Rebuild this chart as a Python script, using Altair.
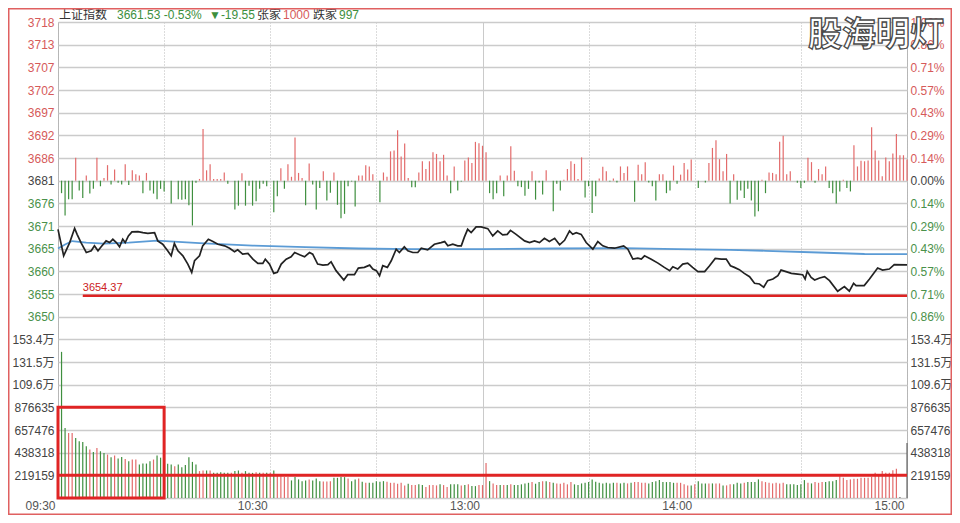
import json
import altair as alt
import pandas as pd

# ---------------- data ----------------
PREV_CLOSE = 3681.08          # 3661.53 + 19.55
VOL_STEP = 219159             # one grid step of the volume pane

# price line: (minute since 09:30, index level)
price_points = [
    (0, 3669.79), (1.6, 3663.65), (3.3, 3666.72), (4.7, 3670.02), (5.4, 3668.63), (6.5, 3666.72),
    (8, 3664.41), (9.4, 3664.81), (10.3, 3665.96), (11.3, 3664.81), (12.2, 3665.73), (13.6, 3667.11),
    (14.6, 3666.72), (15.5, 3667.48), (16.5, 3666.72), (17.4, 3665.73), (18.3, 3667.48), (19, 3666.72),
    (19.9, 3668.26), (20.9, 3669.19), (22.6, 3669.26), (24, 3669.02), (25.4, 3668.86), (27.3, 3669.02),
    (28.2, 3667.11), (29.6, 3666.33), (31, 3664.81), (32, 3663.65), (32.9, 3666.49), (33.9, 3664.81),
    (35.3, 3663.65), (36.7, 3661.72), (37.8, 3659.80), (38.6, 3662.50), (40, 3663.65), (40.9, 3665.96),
    (42.5, 3667.48), (43.8, 3666.95), (45.2, 3666.33), (47.1, 3665.96), (48.5, 3665.41), (49.9, 3664.58),
    (50.8, 3665.04), (52.2, 3664.02), (53.7, 3664.18), (55.1, 3662.87), (56.5, 3661.88), (57.9, 3661.88),
    (58.6, 3662.87), (59.8, 3661.72), (61, 3659.57), (62, 3659.80), (63.1, 3661.72), (64.5, 3662.87),
    (65.9, 3663.42), (66.9, 3664.41), (68.3, 3663.88), (69.7, 3663.42), (71.1, 3664.41), (72, 3664.02),
    (73.4, 3661.72), (74.9, 3661.49), (76.3, 3661.58), (77.2, 3662.27), (78.6, 3660.20), (80.8, 3658.03),
    (81.9, 3659.27), (83.8, 3659.27), (84.9, 3660.80), (86.6, 3660.96), (88.1, 3661.49), (89, 3660.57),
    (90, 3660.20), (90.9, 3659.04), (91.8, 3661.35), (93.1, 3660.96), (94.2, 3662.50), (95.6, 3665.18),
    (96.5, 3664.41), (97.9, 3665.73), (98.9, 3664.81), (100.3, 3664.41), (101.7, 3664.41), (102.7, 3665.41),
    (104.5, 3665.04), (106.4, 3666.33), (108.3, 3666.72), (109.3, 3666.95), (110.2, 3665.96), (111.6, 3666.33),
    (113, 3665.96), (114, 3665.96), (114.9, 3668.03), (115.8, 3669.79), (116.8, 3669.02), (118.2, 3670.34),
    (119.6, 3670.34), (121.5, 3669.95), (122.9, 3668.26), (124.3, 3669.42), (125.7, 3668.49), (127, 3668.63),
    (127.9, 3669.55), (129.5, 3668.63), (131.9, 3667.11), (133.3, 3666.72), (134.7, 3667.11), (136.1, 3666.72),
    (137.5, 3667.71), (138.9, 3666.95), (140.4, 3667.71), (141.8, 3666.19), (143.2, 3667.25), (144.6, 3669.42),
    (145.5, 3668.63), (146.5, 3669.02), (147.9, 3668.63), (149.3, 3666.72), (151.2, 3665.18), (152.6, 3666.95),
    (154, 3665.96), (155.4, 3665.57), (157.3, 3665.41), (159.9, 3665.96), (161.1, 3665.18), (162.5, 3662.87),
    (163.9, 3663.10), (164.9, 3662.87), (165.8, 3663.65), (167.7, 3662.87), (169.6, 3661.95), (171.4, 3660.96),
    (172.9, 3660.20), (173.8, 3661.12), (175.2, 3660.57), (176.6, 3661.72), (178, 3661.95), (179.4, 3660.96),
    (180.9, 3659.97), (182.8, 3659.97), (184.2, 3661.35), (185.8, 3663.03), (187.5, 3662.87), (188.9, 3662.87),
    (190.1, 3661.35), (191.2, 3660.96), (192.6, 3660.43), (194, 3659.57), (195.5, 3658.81), (196.9, 3657.27),
    (198.3, 3657.11), (199.5, 3656.35), (200.6, 3657.89), (202.1, 3658.26), (203.5, 3659.04), (204.4, 3660.33),
    (205.8, 3659.97), (207.3, 3659.57), (209.1, 3659.41), (210.5, 3659.27), (211.2, 3658.26), (211.8, 3660.04),
    (212.9, 3658.65), (213.9, 3658.03), (215.3, 3658.49), (216.7, 3658.81), (218.1, 3657.89), (220.4, 3655.43),
    (222.3, 3656.51), (223.7, 3655.43), (224.9, 3657.27), (225.6, 3656.74), (227.9, 3656.74), (229.4, 3658.26),
    (231.7, 3660.80), (233.1, 3660.33), (235, 3660.57), (236.4, 3661.58), (240, 3661.53),
]

# average price line
avg_points = [
    (0, 3665.34), (2, 3666.26), (4, 3667.07), (8, 3666.72), (13, 3666.49), (20, 3666.72), (28, 3667.18),
    (40, 3666.60), (55, 3666.03), (70, 3665.68), (85, 3665.34), (100, 3665.22), (120, 3665.18),
    (140, 3665.34), (160, 3665.45), (175, 3665.22), (190, 3665.04), (200, 3664.81), (215, 3664.41),
    (228, 3664.07), (240, 3664.02),
]

# red / green bars around the previous close (index points above / below)
breadth_points = [
    (1, -2.9), (2, -8.1), (3, -4.3), (4, -4.3), (5, 5.3), (6, -2.3), (7, -4.0), (8, 1.2), (9, -3.0), (10, -1.9),
    (11, 5.3), (12, -1.3), (13, 0.6), (14, 3.6), (15, -0.9), (16, 2.6), (17, -0.5), (18, -0.9), (19, 3.8), (20, -1.0),
    (21, 2.4), (22, 1.5), (23, 1.2), (24, -2.9), (25, 1.8), (26, -2.3), (27, -3.0), (28, -4.3), (29, -1.9), (30, -2.5),
    (32, -5.3), (34, -4.3), (35, -4.4), (36, -4.3), (37, -5.7), (38, -10.4), (39, -0.5), (40, 0.4),
    (41, 12.0), (42, 2.4), (43, 3.8), (44, 0.4), (45, 0.4), (46, 0.4), (47, 1.9), (48, -0.7), (50, -6.7),
    (51, -5.8), (52, 1.7), (53, -5.8), (54, -1.2), (55, -5.8), (56, -4.8), (57, -1.9), (58, -0.7), (59, -1.3),
    (61, -7.3), (62, -3.6), (63, 2.9), (64, -1.9), (65, 3.8), (66, 0.9), (67, 10.0), (68, 1.8), (69, 0.6), (70, -5.7),
    (71, 4.0), (72, -0.9), (73, -6.7), (74, -1.7), (75, 2.2), (76, -4.6), (77, -2.8), (78, 1.9), (79, -5.6), (80, -8.7),
    (81, -7.7), (82, -1.3), (83, -0.2), (84, -6.0), (85, 1.2), (86, 1.2), (87, 3.6), (88, 3.3), (89, 1.5),
    (91, -5.0), (92, 1.9), (93, 0.9), (94, 6.8), (95, 7.0), (96, 11.7), (97, 5.6), (98, 8.6), (99, 0.6), (100, -1.5),
    (101, -1.5), (102, 1.9), (103, 4.5), (104, 2.7), (105, 4.5), (106, 6.6), (107, 6.2), (108, 4.5), (109, 6.0), (110, 1.2),
    (111, -2.9), (112, 3.3), (113, -2.3), (114, -0.2), (115, 4.7), (116, 5.4), (117, 4.1), (118, 9.0), (119, 8.7), (120, 8.1),
    (121, 6.6), (122, -2.9), (123, -4.3), (124, -2.9), (125, 1.2), (126, -3.6), (127, 1.2), (128, 8.0), (129, 2.3), (130, -1.3),
    (131, -1.5), (132, -3.5), (133, -1.9), (134, 2.2), (135, -4.4), (136, -0.4), (137, -3.2), (138, 2.4), (140, -7.1),
    (141, -0.7), (142, -2.3), (143, 0.2), (144, 2.7), (145, 4.5), (146, 3.9), (147, 0.4), (148, 5.4), (149, -3.9), (150, -1.3),
    (151, -7.5), (152, -3.6), (153, 0.5), (154, 3.2), (155, 2.2), (156, -0.2), (157, 0.5), (158, -0.4), (159, 3.3), (160, 1.8),
    (161, 3.3), (163, -4.9), (164, 3.7), (165, 1.5), (166, 4.3), (167, -0.4), (168, -1.3), (169, -4.6), (170, 1.5),
    (171, 1.5), (172, -2.9), (173, -2.3), (174, 3.5), (175, -0.7), (176, 1.4), (177, 4.1), (178, 2.6), (179, 4.9),
    (181, -1.7), (183, -0.4), (184, 4.1), (185, 7.6), (186, 9.4), (187, 5.0), (188, 2.2), (189, 6.2), (190, -5.3),
    (191, 1.5), (192, -4.4), (193, -2.3), (194, -4.0), (195, -1.9), (196, -4.6), (197, -8.3), (198, -7.1), (199, 0.2), (200, -2.9),
    (201, 1.9), (202, 1.8), (203, 1.5), (204, 9.0), (205, 10.4), (206, 1.5), (207, 2.2), (209, -0.5), (210, -1.7),
    (211, -0.5), (212, 5.3), (213, 4.3), (214, -0.5), (215, 2.7), (216, 1.5), (217, 3.3), (218, -1.7), (219, -2.9), (220, -5.3),
    (221, -2.5), (222, 0.2), (223, -1.7), (224, -2.5), (225, 8.2), (226, 3.3), (227, 4.6), (228, 4.5), (229, 4.7), (230, 12.4),
    (231, 7.0), (232, 4.7), (233, 1.0), (234, 5.4), (235, 4.5), (236, 6.3), (237, 10.8), (238, 5.9), (239, 5.9), (240, 4.9),
]

# minute volume (thousand shares), minutes 1..240
volume_k = [
    1413, 676, 628, 628, 580, 548, 541, 500, 468, 445,
    484, 452, 436, 420, 394, 410, 381, 397, 378, 356,
    372, 372, 324, 333, 333, 356, 372, 410, 390, 339,
    330, 324, 308, 324, 298, 318, 394, 349, 324, 260,
    266, 266, 266, 243, 243, 250, 243, 243, 243, 260,
    266, 243, 260, 243, 243, 250, 243, 243, 243, 243,
    266, 228, 211, 202, 202, 170, 202, 180, 163, 170,
    180, 170, 189, 163, 160, 160, 163, 195, 195, 202,
    202, 189, 163, 180, 189, 157, 147, 147, 147, 163,
    157, 163, 157, 147, 147, 137, 147, 122, 137, 125,
    125, 132, 125, 106, 125, 125, 122, 132, 125, 106,
    132, 132, 132, 122, 125, 132, 115, 115, 125, 125,
    339, 163, 141, 125, 125, 125, 125, 132, 125, 125,
    132, 141, 147, 154, 138, 154, 163, 163, 154, 147,
    141, 138, 147, 132, 154, 132, 125, 141, 147, 154,
    180, 157, 147, 141, 147, 141, 147, 147, 141, 147,
    141, 147, 154, 154, 147, 147, 141, 154, 163, 173,
    154, 154, 154, 147, 147, 147, 132, 122, 122, 132,
    163, 141, 141, 141, 141, 141, 141, 122, 122, 132,
    132, 147, 141, 147, 154, 154, 154, 180, 163, 154,
    147, 141, 147, 141, 147, 132, 132, 132, 125, 132,
    173, 147, 141, 154, 147, 154, 154, 163, 163, 173,
    211, 195, 173, 180, 186, 186, 195, 195, 195, 205,
    243, 228, 260, 243, 243, 269, 282, 10, 0, 532,
]
# bar colour per minute: r = up, g = down, n = neutral
volume_dir = (
    "ggrrggggrg" "rggrgrggrg" "rrggggrggr" "ggrggggggr" "rgrgggggrg" "grgggrgrgr"
    "grrrrggggg" "rgggrrrggg" "grggrgrggg" "ggrrrrrrgr" "rggrrrrgrr" "gggrgrggrr"
    "rgrrgrgrgg" "gggrggrgrg" "rrrrrggggg" "gggggggrgg" "rgrrrrgggg" "ggggrrrrgr"
    "gggrgrrgrr" "gggrggggrr" "rrrrrggggg" "grgrrrgggg" "rrrrrrrrrr" "rrrrrrrnnn"
)

support_level = 3654.37
support_start = 7
box_end_min = 30
box_top_vol = 876635

vol_labels = ["", "219159", "438318", "657476", "876635", "109.6万", "131.5万", "153.4万"]
price_labels = ["3650", "3655", "3660", "3665", "3671", "3676", "3681",
                "3686", "3692", "3697", "3702", "3707", "3713", "3718"]
pct_labels = ["0.86%", "0.71%", "0.57%", "0.43%", "0.29%", "0.14%", "0.00%",
              "0.14%", "0.29%", "0.43%", "0.57%", "0.71%", "0.86%", "1.00%"]
time_labels = {0: "09:30", 60: "10:30", 120: "13:00", 180: "14:00", 240: "15:00"}

title_parts = [
    ("上证指数", "#333333", 1),
    ("3661.53 -0.53%", "#3d8f3d", 59),
    ("▼-19.55", "#3d8f3d", 151),
    ("张家", "#333333", 199),
    ("1000", "#d65a5a", 225),
    ("跌家", "#333333", 255),
    ("997", "#3d8f3d", 281),
]

# ---------------- frames ----------------
price_df = pd.DataFrame(price_points, columns=["m", "p"])
avg_df = pd.DataFrame(avg_points, columns=["m", "p"])
breadth_df = pd.DataFrame(breadth_points, columns=["m", "b"])
vol_df = pd.DataFrame({
    "m": list(range(1, 241)),
    "v": [k * 1000 for k in volume_k],
    "dir": list(volume_dir),
})
support_df = pd.DataFrame({"m": [support_start], "m2": [240], "p": [support_level],
                           "label": [f"{support_level:.2f}"]})
vline_df = pd.DataFrame({"m": [0], "m2": [240], "v": [VOL_STEP]})
box_df = pd.DataFrame({"m": [0], "m2": [box_end_min], "v": [box_top_vol], "v0": [0]})
one = pd.DataFrame({"a": [0]})

RED = "#e36b6b"
GREEN = "#3f8f3f"
FONT = "Liberation Sans, Noto Sans CJK SC"

N_STEPS = 21
price_scale = alt.Scale(domain=[PREV_CLOSE * 0.98, PREV_CLOSE * 1.01], nice=False, zero=False)
vol_scale = alt.Scale(domain=[0, VOL_STEP * N_STEPS], nice=False, zero=False)
x_scale = alt.Scale(domain=[0, 240], nice=False, zero=False)

tick_vals = [VOL_STEP * i for i in range(N_STEPS + 1)]
idx = f"round(datum.value / {VOL_STEP})"
left_arr = json.dumps(vol_labels + price_labels, ensure_ascii=False)
right_arr = json.dumps(vol_labels + pct_labels, ensure_ascii=False)
color_cond = {
    "condition": [
        {"test": f"{idx} > 14", "value": "#d65a5a"},
        {"test": f"{idx} > 7 && {idx} < 14", "value": "#4a914a"},
    ],
    "value": "#444444",
}

left_axis = alt.Axis(
    orient="left", values=tick_vals, labelExpr=f"{left_arr}[{idx}]", labelColor=color_cond,
    grid=True, gridColor="#cbcbcb", gridWidth=1.5, ticks=False, domain=False,
    labelPadding=4, labelFont=FONT, labelFontSize=12, labelOverlap=False, labelBound=False, title=None,
)
right_axis = alt.Axis(
    orient="right", values=tick_vals, labelExpr=f"{right_arr}[{idx}]", labelColor=color_cond,
    grid=False, ticks=False, domain=False, labelPadding=3, labelFont=FONT, labelFontSize=12,
    labelOverlap=False, labelBound=False, title=None,
)
time_expr = " : ".join(f"datum.value == {k} ? '{v}'" for k, v in time_labels.items()) + " : ''"
x_axis = alt.Axis(
    values=list(range(0, 241, 30)), labelExpr=time_expr, grid=True, gridColor="#b8b8b8",
    gridDash={"condition": {"test": "datum.value == 120", "value": [1, 0]}, "value": [1, 2]},
    gridWidth=1, ticks=False, domain=False, labelAlign="right", labelOffset=-3, labelPadding=2,
    labelFlush=False, labelOverlap=False, labelFont=FONT, labelFontSize=12, labelColor="#555555",
    title=None,
)


def X():
    return alt.X("m:Q", scale=x_scale, axis=x_axis)


color_scale = alt.Scale(domain=["r", "g", "n"], range=[RED, GREEN, "#666666"])

volume = alt.Chart(vol_df).mark_rule(strokeWidth=1.2).encode(
    x=X(), y=alt.Y("v:Q", scale=vol_scale, axis=left_axis), y2=alt.datum(0),
    color=alt.Color("dir:N", scale=color_scale, legend=None),
)

breadth = alt.Chart(breadth_df).transform_calculate(
    top=f"{PREV_CLOSE} + datum.b", dir="datum.b >= 0 ? 'r' : 'g'"
).mark_rule(strokeWidth=1.2).encode(
    x=X(), y=alt.Y("top:Q", scale=price_scale, axis=None), y2=alt.datum(PREV_CLOSE),
    color=alt.Color("dir:N", scale=color_scale, legend=None),
)

avg_line = alt.Chart(avg_df).mark_line(color="#5b9bd5", strokeWidth=1.8).encode(
    x=X(), y=alt.Y("p:Q", scale=price_scale, axis=None)
)
price_line = alt.Chart(price_df).mark_line(color="#222222", strokeWidth=1.7).encode(
    x=X(), y=alt.Y("p:Q", scale=price_scale, axis=None)
)

support = alt.Chart(support_df).mark_rule(color="#dd2222", strokeWidth=2.5).encode(
    x=X(), x2="m2:Q", y=alt.Y("p:Q", scale=price_scale, axis=None)
)
support_txt = alt.Chart(support_df).mark_text(
    align="left", baseline="bottom", dy=-3, font=FONT, fontSize=11, color="#cc2222"
).encode(x=X(), y=alt.Y("p:Q", scale=price_scale, axis=None), text="label:N")

vol_line = alt.Chart(vline_df).mark_rule(color="#e02424", strokeWidth=3).encode(
    x=X(), x2="m2:Q", y=alt.Y("v:Q", scale=vol_scale, axis=right_axis)
)
box = alt.Chart(box_df).mark_rect(fillOpacity=0, stroke="#e02424", strokeWidth=3).encode(
    x=X(), x2="m2:Q", y=alt.Y("v:Q", scale=vol_scale, axis=None), y2="v0:Q"
)

title_layers = [
    alt.Chart(one).mark_text(align="left", baseline="middle", font=FONT, fontSize=12, color=c, text=t)
    .encode(x=alt.value(px), y=alt.value(-7))
    for t, c, px in title_parts
]

watermark = alt.Chart(one).mark_text(
    text="股海明灯", font="Noto Sans CJK SC", fontSize=34, fontWeight="bold",
    fill="#ffffff", stroke="#4a4a4a", strokeWidth=1.3, align="center", baseline="middle",
).encode(x=alt.value(818), y=alt.value(14))

border = alt.Chart(one).mark_rect(fillOpacity=0, stroke="#e06060", strokeWidth=1.5).encode(
    x=alt.value(-49.25), x2=alt.value(893.25), y=alt.value(-13.25), y2=alt.value(492.25)
)

chart = alt.layer(
    volume, breadth, avg_line, price_line, support, support_txt, vol_line, box,
    *title_layers, watermark, border,
).resolve_scale(y="independent").properties(
    width=849, height=476,
    autosize=alt.AutoSizeParams(type="none"),
    padding={"left": 50, "top": 14, "right": 45, "bottom": 17},
    background="#ffffff",
).configure_view(stroke="#b5b5b5", strokeWidth=1)

chart.save("out.html", embed_options={"renderer": "svg", "actions": False})
